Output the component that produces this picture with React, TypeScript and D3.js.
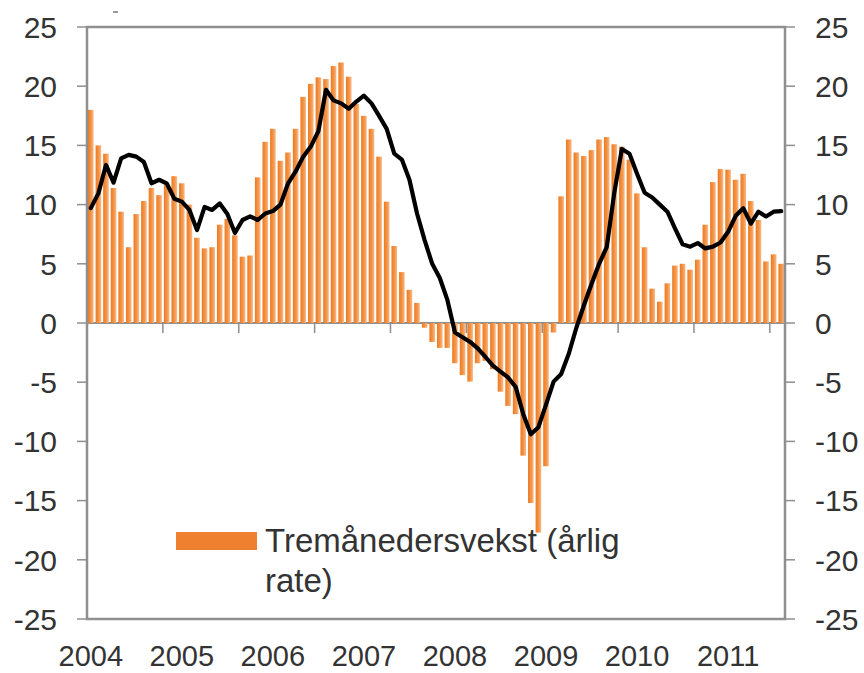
import React from "react";
import * as d3 from "d3";

const months: string[] = d3.range(92).map((i) => {
  const y = 2004 + Math.floor(i / 12);
  const m = (i % 12) + 1;
  return `${y}-${m < 10 ? "0" + m : m}`;
});

const barValues: number[] = [
  18.0, 15.0, 14.3, 11.4, 9.4, 6.4, 9.2, 10.3, 11.4, 10.8, 11.7, 12.4,
  11.8, 10.0, 7.2, 6.3, 6.4, 8.3, 8.8, 7.4, 5.6, 5.7, 12.3, 15.3,
  16.4, 13.7, 14.4, 16.4, 19.1, 20.2, 20.75, 20.6, 21.7, 22.0, 20.8, 18.5,
  17.5, 16.4, 14.05, 10.25, 6.5, 4.3, 2.8, 1.7, -0.4, -1.6, -2.1, -2.1,
  -3.4, -4.4, -4.95, -3.4, -3.2, -3.9, -5.8, -7.0, -7.7, -11.2, -15.2, -17.7,
  -12.1, -0.8, 10.7, 15.5, 14.4, 14.1, 14.6, 15.5, 15.7, 15.1, 14.9, 13.8,
  10.95, 6.4, 2.9, 1.8, 3.35, 4.85, 5.0, 4.5, 5.35, 8.3, 11.9, 13.0,
  12.95, 12.1, 12.6, 10.3, 8.7, 5.2, 5.8, 5.0,
];

const lineValues: number[] = [
  9.7, 10.95, 13.35, 11.85, 13.9, 14.2, 14.05, 13.6, 11.8, 12.1, 11.8, 10.5,
  10.25, 9.55, 7.85, 9.8, 9.55, 10.1, 9.2, 7.6, 8.7, 9.0, 8.7, 9.25,
  9.45, 10.0, 11.8, 12.8, 14.05, 14.9, 16.2, 19.7, 18.8, 18.55, 18.1, 18.7,
  19.2, 18.55, 17.5, 16.4, 14.3, 13.8, 12.1, 9.25, 7.0, 5.0, 3.8, 1.95,
  -0.8, -1.2, -1.6, -2.15, -2.85, -3.6, -4.1, -4.6, -5.4, -7.7, -9.4, -8.8,
  -6.9, -4.95, -4.3, -2.6, -0.4, 1.5, 3.3, 5.0, 6.4, 11.0, 14.7, 14.3,
  12.6, 11.0, 10.6, 10.0, 9.4, 8.0, 6.65, 6.45, 6.75, 6.3, 6.45, 6.8,
  7.7, 9.05, 9.7, 8.4, 9.4, 9.0, 9.4, 9.45,
];

const yTicks: number[] = [25, 20, 15, 10, 5, 0, -5, -10, -15, -20, -25];
const yearLabels: string[] = ["2004", "2005", "2006", "2007", "2008", "2009", "2010", "2011"];
const legendLines: string[] = ["Tremånedersvekst (årlig", "rate)"];

const W = 864;
const H = 673;
const left = 87;
const right = 785;
const top = 27;
const bottom = 619;
const font = "'Liberation Sans', Arial, sans-serif";
const axisColor = "#8f8f8f";
const textColor = "#333";

export default function App() {
  const x = d3
    .scaleBand<string>()
    .domain(months)
    .range([left, right])
    .paddingInner(0.26)
    .paddingOuter(0.13);
  const step = x.step();
  const y = d3.scaleLinear().domain([-25, 25]).range([bottom, top]);
  const y0 = y(0);

  const line = d3
    .line<number>()
    .x((_, i) => (x(months[i]) as number) + x.bandwidth() / 2)
    .y((d) => y(d));

  const catTicks = d3.range(10, 92, 10);

  return (
    <svg
      width={W}
      height={H}
      style={{ position: "absolute", left: 0, top: 0, display: "block", background: "#fff" }}
    >
      <defs>
        <linearGradient id="barGrad" x1="0" x2="1" y1="0" y2="0">
          <stop offset="0%" stopColor="#ee7a20" />
          <stop offset="55%" stopColor="#f39447" />
          <stop offset="100%" stopColor="#f8bb8c" />
        </linearGradient>
      </defs>
      {/* small remnant mark at top */}
      <line x1={113} x2={118} y1={12} y2={12} stroke="#777" strokeWidth={1.5} />

      {/* zero line */}
      <line x1={left} x2={right} y1={y0} y2={y0} stroke={axisColor} strokeWidth={2} />

      {/* bars */}
      {barValues.map((v, i) => (
        <rect
          key={i}
          x={x(months[i]) as number}
          width={x.bandwidth()}
          y={Math.min(y(v), y0)}
          height={Math.abs(y(v) - y0)}
          fill="url(#barGrad)"
        />
      ))}

      {/* category ticks */}
      {catTicks.map((k) => (
        <line
          key={k}
          x1={left + k * step}
          x2={left + k * step}
          y1={y0}
          y2={y0 + 10}
          stroke={axisColor}
          strokeWidth={1.5}
        />
      ))}

      {/* frame */}
      <rect
        x={left}
        y={top}
        width={right - left}
        height={bottom - top}
        fill="none"
        stroke={axisColor}
        strokeWidth={2.5}
      />

      {/* y ticks + labels */}
      {yTicks.map((t) => (
        <g key={t}>
          <line x1={left - 10} x2={left} y1={y(t)} y2={y(t)} stroke={axisColor} strokeWidth={1.5} />
          <line x1={right} x2={right + 10} y1={y(t)} y2={y(t)} stroke={axisColor} strokeWidth={1.5} />
          <text
            x={57}
            y={y(t)}
            dy="0.36em"
            textAnchor="end"
            fontFamily={font}
            fontSize={30}
            fill={textColor}
          >
            {String(t)}
          </text>
          <text
            x={815}
            y={y(t)}
            dy="0.36em"
            textAnchor="start"
            fontFamily={font}
            fontSize={30}
            fill={textColor}
          >
            {String(t)}
          </text>
        </g>
      ))}

      {/* line series */}
      <path
        d={line(lineValues) || ""}
        fill="none"
        stroke="#000"
        strokeWidth={4.2}
        strokeLinejoin="round"
        strokeLinecap="round"
      />

      {/* year labels */}
      {yearLabels.map((lab, k) => (
        <text
          key={lab}
          x={(x(months[k * 12]) as number) + x.bandwidth() / 2}
          y={666}
          textAnchor="middle"
          fontFamily={font}
          fontSize={29}
          fill={textColor}
        >
          {lab}
        </text>
      ))}

      {/* legend */}
      <rect x={176} y={532} width={81} height={18} fill="#ee8030" />
      {legendLines.map((t, i) => (
        <text
          key={i}
          x={265}
          y={552 + i * 40}
          fontFamily={font}
          fontSize={33}
          fill={textColor}
        >
          {t}
        </text>
      ))}
    </svg>
  );
}
